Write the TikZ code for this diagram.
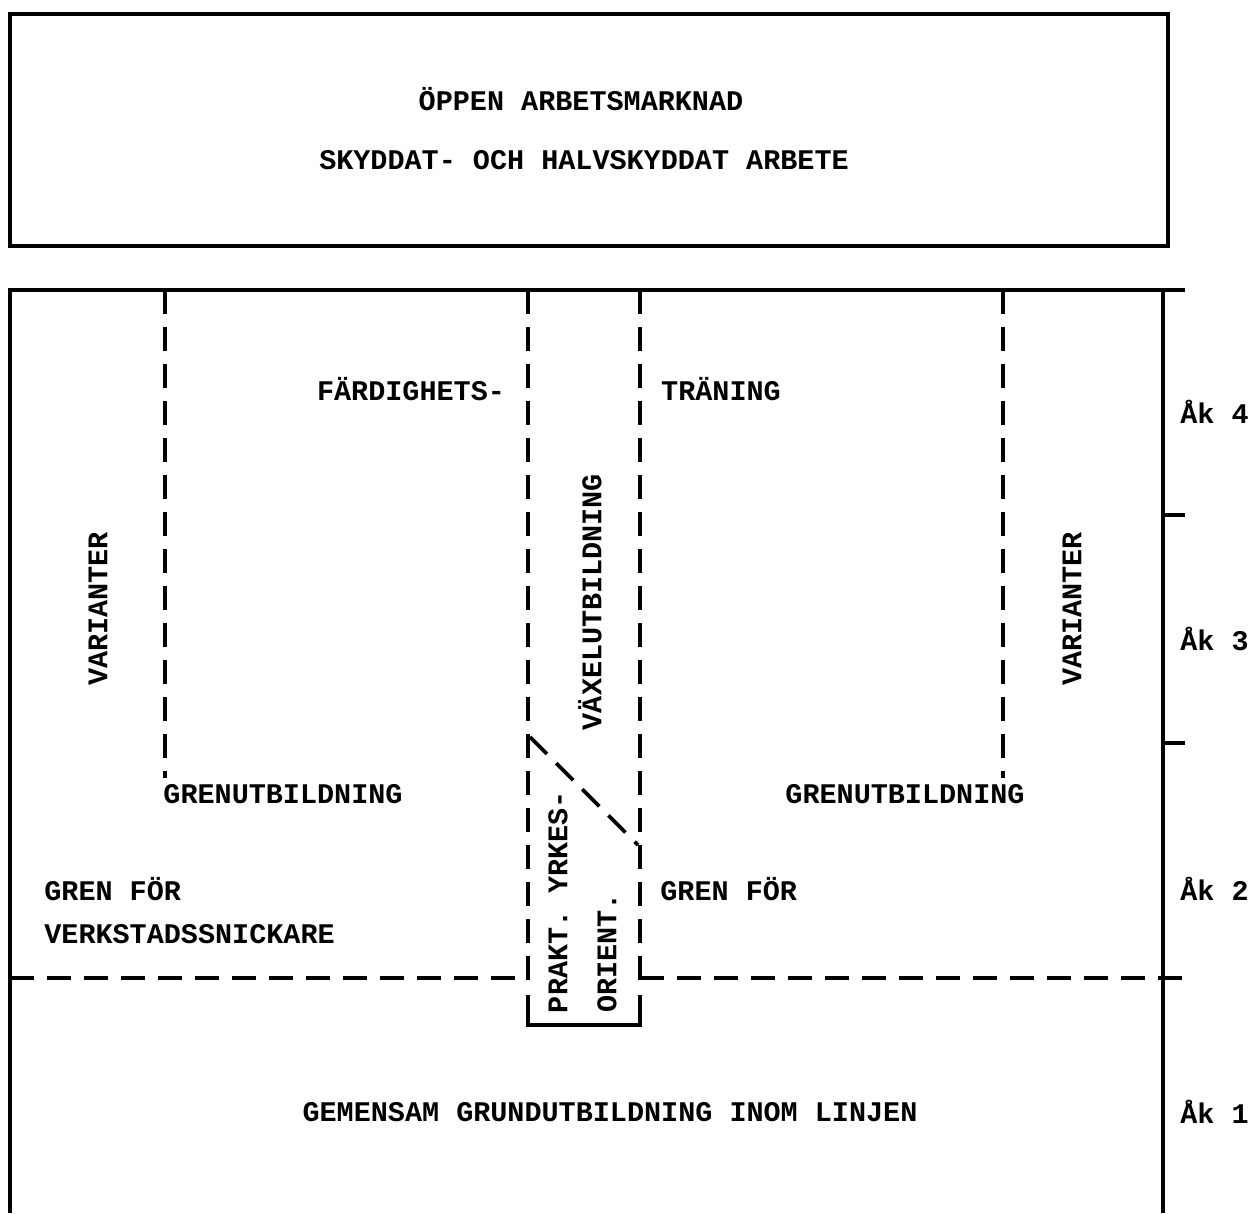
\documentclass[tikz,border=0pt]{standalone}
\usepackage{fontspec}
\setmonofont{Liberation Mono}
\usetikzlibrary{positioning}

\begin{document}
\begin{tikzpicture}[x=0.02cm,y=-0.02cm,
  font=\ttfamily\bfseries\fontsize{16.2}{19}\selectfont,
  frame/.style={line width=2pt},
  dashline/.style={line width=2.2pt,dash pattern=on 0.48cm off 0.26cm},
  lbl/.style={inner sep=0pt}]
\useasboundingbox (0,0) rectangle (1253,1213);
% upper box
\draw[frame] (10,14) rectangle (1168,246);
\node[lbl] (oppen) at (581,99) {ÖPPEN ARBETSMARKNAD};
\node[lbl] (skyddat) at (584,160) {SKYDDAT- OCH HALVSKYDDAT ARBETE};
% lower frame with year ticks
\draw[frame] (8,290)--(1185,290);
\draw[frame] (10,290)--(10,1213);
\draw[frame] (1163,290)--(1163,1213);
\draw[frame] (1163,515)--(1185,515);
\draw[frame] (1163,743)--(1185,743);
% dashed lines
\draw[dashline] (10,978)--(528,978);
\draw[dashline] (640,978)--(1185,978);
\draw[dashline] (165,290)--(165,778);
\draw[dashline] (1003,290)--(1003,778);
\draw[dashline] (528,290)--(528,990);
\draw[dashline] (640,290)--(640,990);
\draw[dashline] (530,737)--(638,845);
\draw[frame] (528,995)--(528,1025)--(640,1025)--(640,995);
% texts
\node[lbl] (fardig) at (411,389) {FÄRDIGHETS-};
\node[lbl] (traning) at (721,389) {TRÄNING};
\node[lbl,rotate=90] (varv) at (98,609) {VARIANTER};
\node[lbl,rotate=90] (varh) at (1072,609) {VARIANTER};
\node[lbl,rotate=90] (vaxel) at (590,602) {VÄXELUTBILDNING};
\node[lbl] (grenv) at (283,794) {GRENUTBILDNING};
\node[lbl] (grenh) at (905,794) {GRENUTBILDNING};
\node[lbl,anchor=west] (grenfor) at (44,889) {GREN FÖR};
\node[lbl,anchor=west] (verkst) at (44,934) {VERKSTADSSNICKARE};
\node[lbl,anchor=west] (grenfor2) at (660,889) {GREN FÖR};
\node[lbl,rotate=90] (prakt) at (558,902) {PRAKT. YRKES-};
\node[lbl,rotate=90] (orient) at (607,953) {ORIENT.};
\node[lbl] (gemensam) at (610,1112) {GEMENSAM GRUNDUTBILDNING INOM LINJEN};
\node[lbl,anchor=west] (ak4) at (1180,412) {Åk 4};
\node[lbl,anchor=west] (ak3) at (1180,639) {Åk 3};
\node[lbl,anchor=west] (ak2) at (1180,889) {Åk 2};
\node[lbl,anchor=west] (ak1) at (1180,1112) {Åk 1};
\end{tikzpicture}
\end{document}
